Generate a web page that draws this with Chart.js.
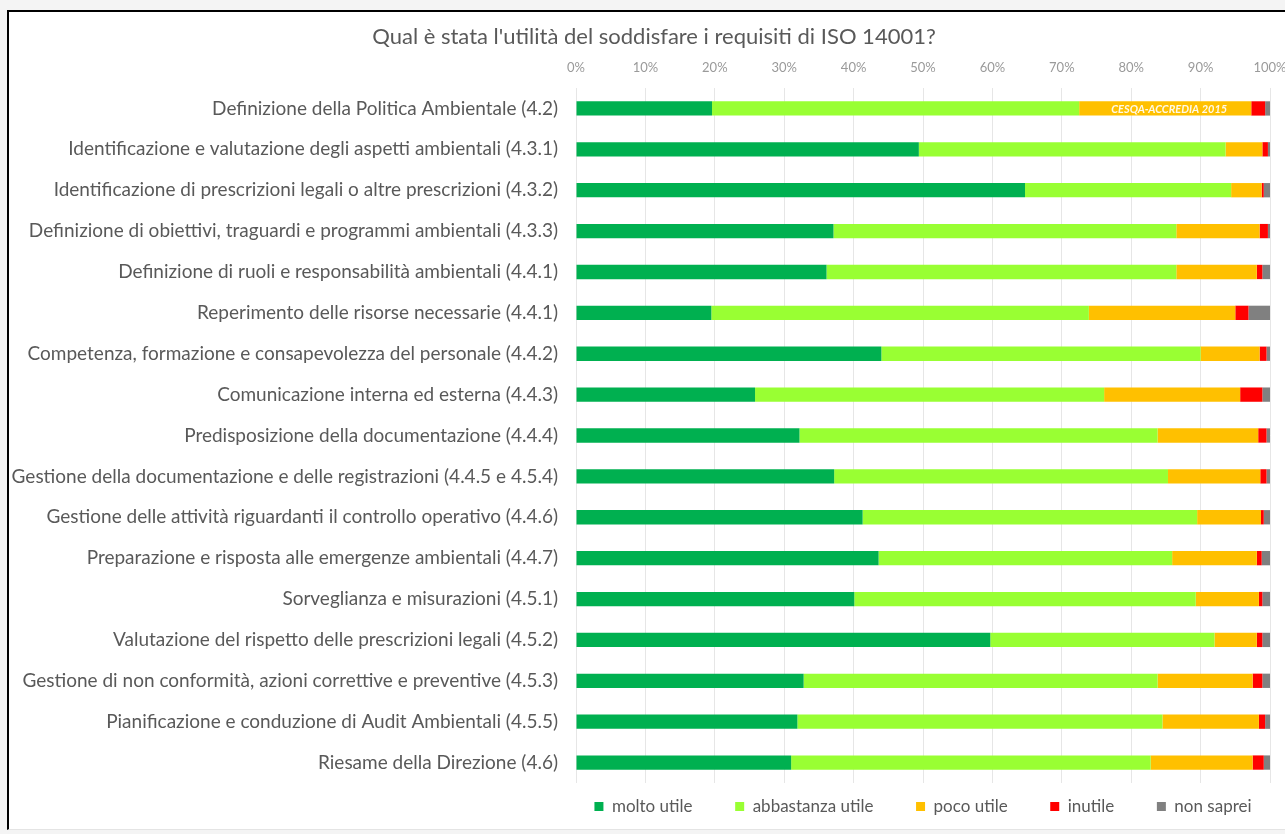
<!DOCTYPE html>
<html>
<head>
<meta charset="utf-8">
<script src="https://cdn.jsdelivr.net/npm/chart.js@4"></script>
<style>
  html, body { margin: 0; padding: 0; background: #f4f4f4; overflow: hidden; }
  body { width: 1285px; height: 834px; position: relative; }
  #frame {
    position: absolute; left: 7px; top: 10px;
    width: 1290px; height: 817px;
    background: #fff;
    border-left: 2px solid #000; border-top: 2px solid #000;
    border-bottom: 1px solid #e4e4e4;
  }
  #chart { display: block; }
</style>
</head>
<body>
<div id="frame"><canvas id="chart" width="1290" height="817"></canvas></div>
<script>
const categories = [
  "Definizione della Politica Ambientale (4.2)",
  "Identificazione e valutazione degli aspetti ambientali (4.3.1)",
  "Identificazione di prescrizioni legali o altre prescrizioni (4.3.2)",
  "Definizione di obiettivi, traguardi e programmi ambientali (4.3.3)",
  "Definizione di ruoli e responsabilità ambientali (4.4.1)",
  "Reperimento delle risorse necessarie (4.4.1)",
  "Competenza, formazione e consapevolezza del personale (4.4.2)",
  "Comunicazione interna ed esterna (4.4.3)",
  "Predisposizione della documentazione (4.4.4)",
  "Gestione della documentazione e delle registrazioni (4.4.5 e 4.5.4)",
  "Gestione delle attività riguardanti il controllo operativo (4.4.6)",
  "Preparazione e risposta alle emergenze ambientali (4.4.7)",
  "Sorveglianza e misurazioni (4.5.1)",
  "Valutazione del rispetto delle prescrizioni legali (4.5.2)",
  "Gestione di non conformità, azioni correttive e preventive (4.5.3)",
  "Pianificazione e conduzione di Audit Ambientali (4.5.5)",
  "Riesame della Direzione (4.6)"
];

const moltoUtile =      [19.6, 49.4, 64.7, 37.1, 36.1, 19.5, 44.0, 25.8, 32.2, 37.2, 41.3, 43.6, 40.1, 59.7, 32.8, 31.9, 31.0];
const abbastanzaUtile = [52.9, 44.2, 29.7, 49.4, 50.4, 54.4, 46.0, 50.3, 51.6, 48.1, 48.2, 42.3, 49.2, 32.3, 51.0, 52.6, 51.8];
const pocoUtile =       [24.8,  5.3,  4.4, 12.0, 11.6, 21.1,  8.5, 19.6, 14.5, 13.3,  9.2, 12.2,  9.1,  6.1, 13.7, 13.9, 14.7];
const inutile =         [ 2.0,  0.8,  0.3,  1.2,  0.8,  1.9,  1.0,  3.2,  1.2,  0.9,  0.4,  0.7,  0.5,  0.8,  1.4,  0.9,  1.6];
const nonSaprei =       [ 0.7,  0.3,  0.9,  0.3,  1.1,  3.1,  0.5,  1.1,  0.5,  0.5,  0.9,  1.2,  1.1,  1.1,  1.1,  0.7,  0.9];

const seriesNames = ["molto utile", "abbastanza utile", "poco utile", "inutile", "non saprei"];
const seriesColors = ["#00B050", "#99FF33", "#FFC000", "#FF0000", "#808080"];

const FONT = "Lato, 'Open Sans', sans-serif";

// scritta in corsivo sopra la barra arancione della prima riga
const watermark = {
  id: "watermark",
  afterDatasetsDraw(chart) {
    const bar = chart.getDatasetMeta(2).data[0];
    if (!bar) return;
    const ctx = chart.ctx;
    ctx.save();
    ctx.font = "italic bold 11px " + FONT;
    ctx.fillStyle = "rgba(255,255,255,0.9)";
    ctx.textAlign = "center";
    ctx.textBaseline = "middle";
    ctx.fillText("CESQA-ACCREDIA 2015", (bar.base + bar.x) / 2 + 4, bar.y + 1);
    ctx.restore();
  },
};

const data = [moltoUtile, abbastanzaUtile, pocoUtile, inutile, nonSaprei];

new Chart(document.getElementById("chart"), {
  type: "bar",
  data: {
    labels: categories,
    datasets: data.map((values, i) => ({
      label: seriesNames[i],
      data: values,
      backgroundColor: seriesColors[i],
      borderWidth: 0,
      categoryPercentage: 1,
      barPercentage: 0.35,
    })),
  },
  options: {
    indexAxis: "y",
    responsive: false,
    animation: false,
    layout: {
      padding: { top: 0, right: 0, bottom: 4, left: 0 },
    },
    scales: {
      x: {
        position: "top",
        stacked: true,
        min: 0,
        max: 100,
        ticks: {
          stepSize: 10,
          padding: 12,
          color: "#9a9a9a",
          font: { family: FONT, size: 13 },
          callback: (v) => v + "%",
        },
        grid: { color: "#e6e6e6", drawTicks: false },
        border: { display: false },
      },
      y: {
        stacked: true,
        afterFit: (scale) => {
          scale.width = 567;
        },
        ticks: {
          padding: 10,
          color: "#595959",
          font: { family: FONT, size: 19 },
        },
        grid: { display: false },
        border: { display: false },
      },
      // spazio vuoto a destra dell'area del grafico
      yRight: {
        position: "right",
        type: "category",
        afterFit: (scale) => {
          scale.width = 29;
        },
        ticks: { display: false },
        grid: { display: false },
        border: { display: false },
      },
    },
    plugins: {
      title: {
        display: true,
        text: "Qual è stata l'utilità del soddisfare i requisiti di ISO 14001?",
        color: "#595959",
        font: { family: FONT, size: 22, weight: "normal" },
        padding: { top: 12, bottom: -2 },
      },
      legend: {
        position: "bottom",
        fullSize: false,
        labels: {
          color: "#595959",
          font: { family: FONT, size: 17 },
          boxWidth: 9,
          boxHeight: 9,
          padding: 15,
          generateLabels: (chart) => {
            const items = Chart.defaults.plugins.legend.labels.generateLabels(chart);
            items.forEach((item, i) => {
              if (i < items.length - 1) item.text += "\u2003\u2003\u2009";
            });
            return items;
          },
        },
      },
      tooltip: { enabled: false },
    },
  },
  plugins: [watermark],
});
</script>
</body>
</html>
